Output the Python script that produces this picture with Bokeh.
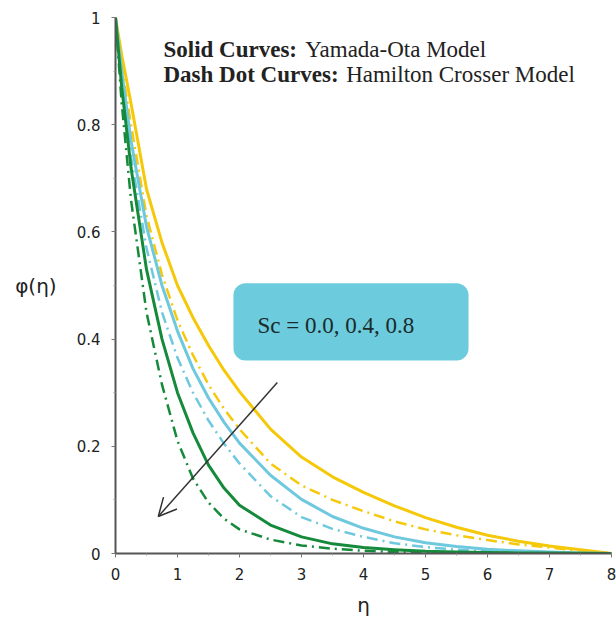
from bokeh.plotting import figure
from bokeh.models import FixedTicker, Label, BoxAnnotation, Arrow, OpenHead, Range1d
from bokeh.embed import file_html
from bokeh.resources import INLINE

# ---- data ----
eta = [0, 0.1, 0.25, 0.5, 0.75, 1, 1.25, 1.5, 1.75, 2, 2.5, 3, 3.5, 4, 4.5, 5, 5.5, 6, 6.5, 7, 7.5, 8]

# Yamada-Ota model (solid)
yo_sc00 = [1, 0.93, 0.84, 0.68, 0.58, 0.50, 0.44, 0.388, 0.342, 0.302, 0.232, 0.180, 0.143, 0.114, 0.089, 0.067, 0.049, 0.034, 0.023, 0.014, 0.007, 0.0]
yo_sc04 = [1, 0.90, 0.77, 0.61, 0.50, 0.415, 0.345, 0.29, 0.245, 0.206, 0.146, 0.101, 0.069, 0.047, 0.031, 0.020, 0.013, 0.008, 0.005, 0.003, 0.001, 0.0]
yo_sc08 = [1, 0.87, 0.72, 0.53, 0.40, 0.30, 0.225, 0.165, 0.122, 0.09, 0.053, 0.031, 0.018, 0.011, 0.007, 0.004, 0.003, 0.002, 0.001, 0.0007, 0.0003, 0.0]

# Hamilton Crosser model (dash dot)
hc_sc00 = [1, 0.91, 0.80, 0.63, 0.52, 0.435, 0.37, 0.315, 0.27, 0.232, 0.168, 0.127, 0.100, 0.079, 0.060, 0.045, 0.034, 0.025, 0.017, 0.011, 0.005, 0.0]
hc_sc04 = [1, 0.88, 0.74, 0.57, 0.45, 0.365, 0.30, 0.248, 0.205, 0.168, 0.107, 0.068, 0.046, 0.031, 0.019, 0.012, 0.007, 0.004, 0.002, 0.001, 0.0005, 0.0]
hc_sc08 = [1, 0.84, 0.66, 0.45, 0.315, 0.21, 0.14, 0.095, 0.065, 0.045, 0.026, 0.015, 0.009, 0.005, 0.003, 0.002, 0.001, 0.001, 0.0005, 0.0002, 0.0001, 0.0]

x_ticks = [0, 1, 2, 3, 4, 5, 6, 7, 8]
x_minor = [0.5, 1.5, 2.5, 3.5, 4.5, 5.5, 6.5, 7.5]
y_ticks = [0, 0.2, 0.4, 0.6, 0.8, 1]
y_minor = [0.1, 0.3, 0.5, 0.7, 0.9]
y_tick_labels = {0: "0", 0.2: "0.2", 0.4: "0.4", 0.6: "0.6", 0.8: "0.8", 1: "1"}

YELLOW = "#f6c80a"
BLUE = "#6ec8de"
GREEN = "#158a3a"
DASHDOT = "11 5 2 5"

p = figure(width=616, height=621, output_backend="svg", toolbar_location=None,
           x_range=Range1d(0, 8), y_range=Range1d(0, 1),
           min_border_left=115, min_border_right=5, min_border_top=17, min_border_bottom=68)
p.outline_line_color = None
p.xgrid.visible = False
p.ygrid.visible = False
p.background_fill_color = "white"

series = [
    (yo_sc00, YELLOW, "solid", 3),
    (hc_sc00, YELLOW, DASHDOT, 2.5),
    (yo_sc04, BLUE, "solid", 3),
    (hc_sc04, BLUE, DASHDOT, 2.5),
    (yo_sc08, GREEN, "solid", 3),
    (hc_sc08, GREEN, DASHDOT, 2.5),
]
for ys, col, dash, w in series:
    p.line(eta, ys, line_color=col, line_width=w, line_dash=dash, line_join="round")

for ax in (p.xaxis, p.yaxis):
    ax.axis_line_color = "#555555"
    ax.axis_line_width = 2
    ax.major_tick_line_color = "#777777"
    ax.minor_tick_line_color = "#999999"
    ax.major_tick_in = 0
    ax.major_tick_out = 4
    ax.minor_tick_in = 0
    ax.minor_tick_out = 2
    ax.major_label_text_font = "DejaVu Sans"
    ax.major_label_text_font_size = "15px"
    ax.major_label_text_color = "#222222"
    ax.axis_label_text_font = "DejaVu Sans"
    ax.axis_label_text_font_style = "normal"
    ax.axis_label_text_font_size = "20px"
    ax.axis_label_text_color = "#222222"

p.xaxis.ticker = FixedTicker(ticks=x_ticks, minor_ticks=x_minor)
p.yaxis.ticker = FixedTicker(ticks=y_ticks, minor_ticks=y_minor)
p.yaxis.major_label_overrides = y_tick_labels
p.xaxis.major_label_standoff = 10
p.yaxis.major_label_standoff = 11
p.xaxis.axis_label = "η"
p.xaxis.axis_label_standoff = 10
p.yaxis.axis_label = "φ(η)"
p.yaxis.axis_label_orientation = "horizontal"
p.yaxis.axis_label_standoff = 17

# annotation box
box = BoxAnnotation(left=1.903, right=5.694, bottom=0.360, top=0.504,
                    fill_color="#6ccbdc", fill_alpha=1.0, line_color=None, border_radius=12)
p.add_layout(box)
p.add_layout(Label(x=2.29, y=0.425, text="Sc = 0.0, 0.4, 0.8", text_font="Liberation Serif",
                   text_font_size="23px", text_color="#1a2a2a", text_baseline="alphabetic"))

# arrow
p.add_layout(Arrow(end=OpenHead(size=18, line_color="#333333", line_width=1.5),
                   x_start=2.61, y_start=0.319, x_end=0.69, y_end=0.069,
                   line_color="#333333", line_width=1.5))

# legend-like text
TF = "Liberation Serif"
Y1, Y2 = 0.940, 0.893
p.add_layout(Label(x=0.774, y=Y1, text="Solid Curves:", text_font=TF, text_font_style="bold",
                   text_font_size="23px", text_color="#222222", text_baseline="alphabetic"))
p.add_layout(Label(x=3.06, y=Y1, text="Yamada-Ota Model", text_font=TF,
                   text_font_size="23px", text_color="#222222", text_baseline="alphabetic"))
p.add_layout(Label(x=0.774, y=Y2, text="Dash Dot Curves:", text_font=TF, text_font_style="bold",
                   text_font_size="23px", text_color="#222222", text_baseline="alphabetic"))
p.add_layout(Label(x=3.72, y=Y2, text="Hamilton Crosser Model", text_font=TF,
                   text_font_size="23px", text_color="#222222", text_baseline="alphabetic"))

open("out.html", "w").write(file_html(p, INLINE))
